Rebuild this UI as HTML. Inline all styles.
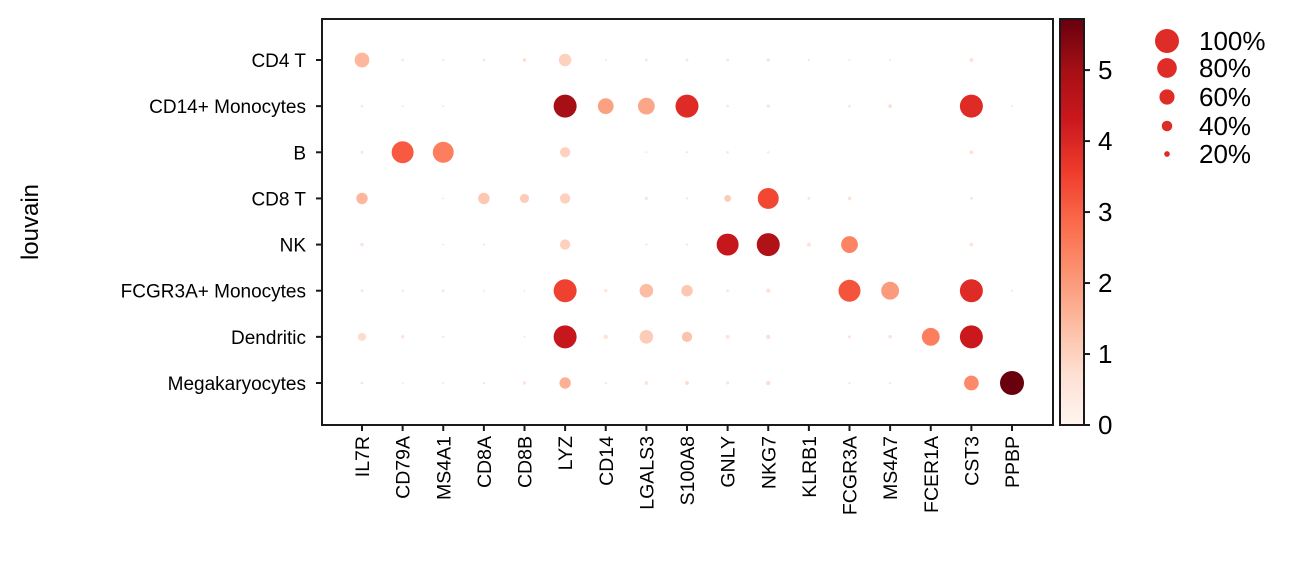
<!DOCTYPE html>
<html><head><meta charset="utf-8"><style>
body{margin:0;background:#fff;}
svg text{font-family:"Liberation Sans",Arial,sans-serif;fill:#000;}
</style></head><body>
<svg id="chart" width="1294" height="561" xmlns="http://www.w3.org/2000/svg">
<defs><linearGradient id="reds" x1="0" y1="1" x2="0" y2="0">
<stop offset="0" stop-color="#fff5f0"/><stop offset="0.125" stop-color="#fee0d2"/><stop offset="0.25" stop-color="#fcbba1"/><stop offset="0.375" stop-color="#fc9272"/><stop offset="0.5" stop-color="#fb6a4a"/><stop offset="0.625" stop-color="#ef3b2c"/><stop offset="0.75" stop-color="#cb181d"/><stop offset="0.875" stop-color="#a50f15"/><stop offset="1" stop-color="#67000d"/>
</linearGradient></defs>
<g id="dots"></g>
<rect x="322" y="19" width="731" height="406" fill="none" stroke="#1a1a1a" stroke-width="2"/>
<g id="axes"></g>
<rect x="1060" y="19" width="24" height="406" fill="url(#reds)" stroke="#1a1a1a" stroke-width="2"/>
<g id="cbticks"></g>
<text x="38" y="222" font-size="24" text-anchor="middle" transform="rotate(-90 38 222)">louvain</text>
<g id="legend"></g>
</svg>
<script>
const genes=["IL7R","CD79A","MS4A1","CD8A","CD8B","LYZ","CD14","LGALS3","S100A8","GNLY","NKG7","KLRB1","FCGR3A","MS4A7","FCER1A","CST3","PPBP"];
const groups=["CD4 T","CD14+ Monocytes","B","CD8 T","NK","FCGR3A+ Monocytes","Dendritic","Megakaryocytes"];
const fracs=[
[.55,.03,.02,.04,.06,.45,.01,.04,.04,.04,.06,.02,.01,.01,0,.07,0],
[.03,.01,.01,0,0,.95,.6,.65,.95,.03,.06,0,.04,.08,0,.95,.01],
[.04,.9,.85,0,0,.35,0,.01,.02,.03,.02,0,0,0,0,.07,0],
[.4,0,.01,.4,.3,.35,0,.05,.02,.2,.85,.04,.07,0,0,.04,0],
[.06,0,.01,.02,0,.35,0,.02,.02,.9,.95,.08,.65,0,0,.07,0],
[.04,.02,.03,.01,.01,.95,.06,.5,.4,.03,.1,0,.9,.7,0,.95,.02],
[.25,.06,.02,0,.01,.95,.1,.5,.35,.08,.1,0,.05,.07,.7,.95,0],
[.04,.01,.01,.02,.06,.4,.02,.07,.08,.05,.1,0,.02,.02,0,.55,1.0]];
const means=[
[1.5,.3,.3,.5,.8,1.0,0,.5,.5,.5,.6,.3,.3,.3,0,.7,0],
[.3,.3,.3,0,0,5.0,1.9,1.8,3.9,.4,.6,0,.3,.7,0,3.9,.3],
[.3,3.1,2.5,0,0,1.0,0,.3,.3,.3,.3,0,0,0,0,.7,0],
[1.5,0,.3,1.2,1.1,1.0,0,.5,.3,1.1,3.4,.5,.6,0,0,.5,0],
[.5,0,.3,.3,0,1.0,0,.3,.3,4.4,4.8,.6,2.4,0,0,.6,0],
[.4,.3,.3,.3,.3,3.5,.6,1.4,1.2,.3,.6,0,3.2,2.0,0,3.9,.3],
[.8,.6,.3,0,.3,4.4,.6,1.1,1.3,.6,.7,0,.5,.6,2.5,4.3,0],
[.4,.3,.3,.3,.5,1.6,.3,.5,.8,.5,.7,0,.3,.3,0,2.3,5.7]];
const cbTicks=[0,1,2,3,4,5];
const legendFracs=[1.0,0.8,0.6,0.4,0.2];
const legendLabels=["100%","80%","60%","40%","20%"];

const NS="http://www.w3.org/2000/svg";
const VMAX=5.72;
const X0=322,X1=1053,Y0=19,Y1=425;
const xPos=i=>362+i*(1012-362)/(genes.length-1);
const yPos=j=>60+j*(383-60)/(groups.length-1);
const rSize=f=>0.8+11.2*Math.pow(f,0.9);
const cbY=v=>425-v/VMAX*406;
const stops=[[0,[255,245,240]],[.125,[254,224,210]],[.25,[252,187,161]],[.375,[252,146,114]],[.5,[251,106,74]],[.625,[239,59,44]],[.75,[203,24,29]],[.875,[165,15,21]],[1,[103,0,13]]];
function reds(v){let t=Math.max(0,Math.min(1,v/VMAX));for(let k=1;k<stops.length;k++){if(t<=stops[k][0]){const a=stops[k-1],b=stops[k],u=(t-a[0])/(b[0]-a[0]);return "rgb("+a[1].map((c,i)=>Math.round(c+(b[1][i]-c)*u)).join(",")+")";}}return "rgb(103,0,13)";}
function mk(tag,attrs,parent){const e=document.createElementNS(NS,tag);for(const k in attrs)e.setAttribute(k,attrs[k]);parent.appendChild(e);return e;}
const dots=document.getElementById('dots'),axes=document.getElementById('axes'),cbt=document.getElementById('cbticks'),leg=document.getElementById('legend');
groups.forEach((g,j)=>{genes.forEach((gn,i)=>{const f=fracs[j][i];if(f<=0)return;
const c=mk('circle',{cx:xPos(i),cy:yPos(j),r:rSize(f),fill:reds(Math.max(means[j][i],0.6))},dots);

});});
genes.forEach((gn,i)=>{const x=xPos(i);
const t=mk('line',{x1:x,x2:x,y1:Y1,y2:Y1+6,stroke:'#1a1a1a','stroke-width':2},axes);


const tx=mk('text',{x:x+7,y:436,'font-size':19.5,'text-anchor':'end',transform:'rotate(-90 '+(x+7)+' 436)'},axes);tx.textContent=gn;

});
groups.forEach((g,j)=>{const y=yPos(j);
const t=mk('line',{x1:X0-6,x2:X0,y1:y,y2:y,stroke:'#1a1a1a','stroke-width':2},axes);


const tx=mk('text',{x:306,y:y+7,'font-size':19,'text-anchor':'end'},axes);tx.textContent=g;

});
cbTicks.forEach(v=>{const y=cbY(v);
const t=mk('line',{x1:1084,x2:1090,y1:y,y2:y,stroke:'#1a1a1a','stroke-width':2},cbt);


const tx=mk('text',{x:1098,y:y+9,'font-size':26},cbt);tx.textContent=v;

});
legendFracs.forEach((f,k)=>{const y=[41,68,97,126,154][k];
const c=mk('circle',{cx:1167,cy:y,r:12*Math.pow(f,0.9),fill:'#de2d26'},leg);


const tx=mk('text',{x:1199,y:y+9,'font-size':26},leg);tx.textContent=legendLabels[k];

});
</script>
</body></html>
